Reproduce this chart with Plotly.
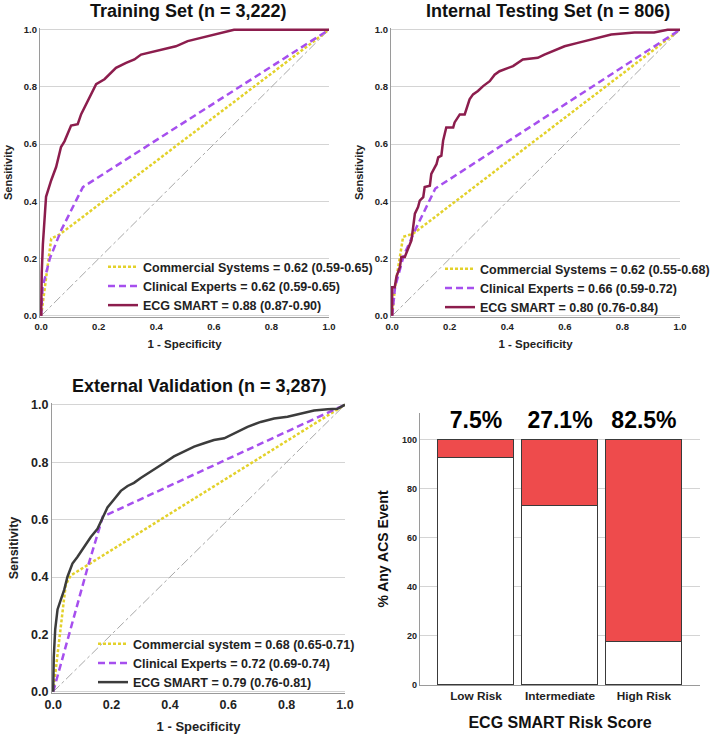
import plotly.graph_objects as go

FONT = "Liberation Sans, Arial, sans-serif"

# ---------------- data ----------------
# Training set
tr_comm_fpr = [0, 0.01, 0.035, 0.065, 1.0]
tr_comm_tpr = [0, 0.08, 0.27, 0.285, 1.0]
tr_clin_fpr = [0, 0.005, 0.03, 0.07, 0.145, 1.0]
tr_clin_tpr = [0, 0.10, 0.20, 0.30, 0.45, 1.0]
tr_ecg_fpr = [0, 0.002, 0.006, 0.01, 0.017, 0.035, 0.052, 0.069, 0.081, 0.104, 0.127, 0.139,
              0.168, 0.179, 0.191, 0.22, 0.243, 0.26, 0.295, 0.324, 0.347, 0.393, 0.44, 0.468,
              0.509, 0.555, 0.6, 0.647, 0.67, 1.0]
tr_ecg_tpr = [0, 0.15, 0.25, 0.32, 0.416, 0.474, 0.52, 0.59, 0.61, 0.665, 0.67, 0.705,
              0.763, 0.786, 0.81, 0.827, 0.85, 0.867, 0.884, 0.896, 0.913, 0.925, 0.936, 0.942,
              0.96, 0.971, 0.983, 0.994, 1.0, 1.0]

# Internal testing set
it_comm_fpr = [0, 0.01, 0.038, 0.073, 1.0]
it_comm_tpr = [0, 0.10, 0.276, 0.287, 1.0]
it_clin_fpr = [0, 0.01, 0.04, 0.08, 0.15, 1.0]
it_clin_tpr = [0, 0.10, 0.21, 0.30, 0.445, 1.0]
it_ecg_fpr = [0, 0, 0.009, 0.015, 0.027, 0.032, 0.044, 0.055, 0.067, 0.073, 0.079, 0.09, 0.096,
              0.108, 0.113, 0.131, 0.136, 0.148, 0.154, 0.16, 0.171, 0.177, 0.183, 0.188, 0.212,
              0.217, 0.235, 0.252, 0.269, 0.281, 0.298, 0.316, 0.339, 0.356, 0.373, 0.42, 0.454,
              0.506, 0.529, 0.558, 0.599, 0.645, 0.691, 0.761, 0.842, 0.91, 0.957, 1.0]
it_ecg_tpr = [0, 0.10, 0.10, 0.137, 0.171, 0.206, 0.206, 0.235, 0.264, 0.31, 0.357, 0.38, 0.403,
              0.415, 0.45, 0.455, 0.496, 0.519, 0.53, 0.554, 0.56, 0.612, 0.635, 0.658, 0.658,
              0.676, 0.704, 0.704, 0.757, 0.774, 0.786, 0.803, 0.82, 0.843, 0.855, 0.873, 0.896,
              0.902, 0.913, 0.925, 0.942, 0.954, 0.965, 0.983, 0.99, 0.99, 1.0, 1.0]

# External validation
ev_comm_fpr = [0, 0.02, 0.043, 0.06, 1.0]
ev_comm_tpr = [0, 0.17, 0.373, 0.405, 1.0]
ev_clin_fpr = [0, 0.12, 0.17, 1.0]
ev_clin_tpr = [0, 0.44, 0.61, 1.0]
ev_ecg_fpr = [0, 0.002, 0.007, 0.015, 0.026, 0.038, 0.049, 0.066, 0.083, 0.106, 0.129, 0.152,
              0.169, 0.186, 0.209, 0.232, 0.255, 0.277, 0.3, 0.329, 0.357, 0.38, 0.414, 0.449,
              0.483, 0.517, 0.551, 0.586, 0.62, 0.666, 0.711, 0.757, 0.803, 0.848, 0.894, 0.94,
              0.974, 1.0]
ev_ecg_tpr = [0, 0.12, 0.218, 0.287, 0.32, 0.356, 0.401, 0.447, 0.47, 0.505, 0.539, 0.568,
              0.608, 0.642, 0.671, 0.70, 0.717, 0.728, 0.745, 0.763, 0.78, 0.797, 0.82, 0.837,
              0.854, 0.866, 0.877, 0.883, 0.90, 0.923, 0.94, 0.952, 0.958, 0.969, 0.98, 0.984,
              0.986, 1.0]

# Legend labels
tr_labels = ["Commercial Systems = 0.62 (0.59-0.65)", "Clinical Experts = 0.62 (0.59-0.65)",
             "ECG SMART = 0.88 (0.87-0.90)"]
it_labels = ["Commercial Systems = 0.62 (0.55-0.68)", "Clinical Experts = 0.66 (0.59-0.72)",
             "ECG SMART = 0.80 (0.76-0.84)"]
ev_labels = ["Commercial system = 0.68 (0.65-0.71)", "Clinical Experts = 0.72 (0.69-0.74)",
             "ECG SMART = 0.79 (0.76-0.81)"]

# Risk score bars
risk_cats = ["Low Risk", "Intermediate", "High Risk"]
acs_pct = [7.5, 27.1, 82.5]
no_acs_pct = [100 - v for v in acs_pct]

# ---------------- styles ----------------
C_COMM = "#E3D12B"
C_CLIN = "#A64FEE"
C_ECG = "#8C1D4D"
C_ECG_EXT = "#3C3C3C"
C_DIAG = "#A8A8A8"
C_RED = "#EE4B4C"

fig = go.Figure()


def add_roc(xa, ya, leg, comm, clin, ecg, labels, ecg_color):
    fig.add_trace(go.Scatter(x=[0, 1], y=[0, 1], mode="lines", xaxis=xa, yaxis=ya,
                             line=dict(color=C_DIAG, width=1, dash="dashdot"),
                             showlegend=False, hoverinfo="skip"))
    fig.add_trace(go.Scatter(x=comm[0], y=comm[1], mode="lines", xaxis=xa, yaxis=ya,
                             name=labels[0], legend=leg,
                             line=dict(color=C_COMM, width=2.5, dash="3px,2px")))
    fig.add_trace(go.Scatter(x=clin[0], y=clin[1], mode="lines", xaxis=xa, yaxis=ya,
                             name=labels[1], legend=leg,
                             line=dict(color=C_CLIN, width=2.5, dash="7px,4px")))
    fig.add_trace(go.Scatter(x=ecg[0], y=ecg[1], mode="lines", xaxis=xa, yaxis=ya,
                             name=labels[2], legend=leg,
                             line=dict(color=ecg_color, width=2.5)))


add_roc("x", "y", "legend", (tr_comm_fpr, tr_comm_tpr), (tr_clin_fpr, tr_clin_tpr),
        (tr_ecg_fpr, tr_ecg_tpr), tr_labels, C_ECG)
add_roc("x2", "y2", "legend2", (it_comm_fpr, it_comm_tpr), (it_clin_fpr, it_clin_tpr),
        (it_ecg_fpr, it_ecg_tpr), it_labels, C_ECG)
add_roc("x3", "y3", "legend3", (ev_comm_fpr, ev_comm_tpr), (ev_clin_fpr, ev_clin_tpr),
        (ev_ecg_fpr, ev_ecg_tpr), ev_labels, C_ECG_EXT)

# Bars
fig.add_trace(go.Bar(x=risk_cats, y=no_acs_pct, xaxis="x4", yaxis="y4", showlegend=False,
                     marker=dict(color="white", line=dict(color="#3a3a3a", width=1)),
                     width=0.905, hoverinfo="skip"))
fig.add_trace(go.Bar(x=risk_cats, y=acs_pct, xaxis="x4", yaxis="y4", showlegend=False,
                     marker=dict(color=C_RED, line=dict(color="#3a3a3a", width=1)),
                     width=0.905, hoverinfo="skip"))
fig.add_trace(go.Scatter(x=risk_cats, y=[107.3] * 3, xaxis="x4", yaxis="y4", mode="text",
                         text=[f"{v}%" for v in acs_pct], showlegend=False,
                         textfont=dict(family=FONT, size=23, color="black", weight="bold"),
                         cliponaxis=False, hoverinfo="skip"))

W, H = 715, 740


def px_x(p):
    return p / W


def px_y(p):
    return 1 - p / H


def roc_x(dom, fs, title_fs, standoff):
    return dict(domain=dom, range=[-0.004, 1.0], tickvals=[0, 0.2, 0.4, 0.6, 0.8, 1.0],
                ticktext=["0.0", "0.2", "0.4", "0.6", "0.8", "1.0"], automargin=False,
                showgrid=False, zeroline=False, showline=True, linecolor="#9a9a9a", linewidth=1.2,
                ticks="", tickfont=dict(family=FONT, size=fs, color="#222", weight="bold"),
                title=dict(text="1 - Specificity", standoff=standoff,
                           font=dict(family=FONT, size=title_fs, color="#222", weight="bold")),
                fixedrange=True)


def roc_y(dom, fs, title_fs, standoff, anchor):
    return dict(domain=dom, range=[-0.004, 1.006], tickvals=[0, 0.2, 0.4, 0.6, 0.8, 1.0],
                ticktext=["0.0", "0.2", "0.4", "0.6", "0.8", "1.0"], automargin=False,
                showgrid=True, gridcolor="#d4d4d4", gridwidth=1, zeroline=False,
                showline=True, linecolor="#9a9a9a", linewidth=1.2, ticks="", anchor=anchor,
                tickfont=dict(family=FONT, size=fs, color="#222", weight="bold"),
                title=dict(text="Sensitivity", standoff=standoff,
                           font=dict(family=FONT, size=title_fs, color="#222", weight="bold")),
                fixedrange=True)


legend_common = dict(bgcolor="rgba(0,0,0,0)", borderwidth=0, itemwidth=30,
                     font=dict(family=FONT, size=12.5, color="#222", weight="bold"),
                     yanchor="top", tracegroupgap=0, traceorder="normal")

fig.update_layout(
    width=W, height=H, margin=dict(l=0, r=0, t=0, b=0, autoexpand=False),
    paper_bgcolor="white", plot_bgcolor="white", barmode="stack", bargap=0,
    font=dict(family=FONT, color="#222"),
    xaxis=dict(**roc_x([px_x(40), px_x(329)], 9.5, 11.5, 9), anchor="y"),
    yaxis=roc_y([px_y(317), px_y(28)], 9.5, 11, 8, "x"),
    xaxis2=dict(**roc_x([px_x(391), px_x(680)], 9.5, 11.5, 9), anchor="y2"),
    yaxis2=roc_y([px_y(317), px_y(28)], 9.5, 11, 8, "x2"),
    xaxis3=dict(**roc_x([px_x(52), px_x(345)], 12.5, 13, 10), anchor="y3"),
    yaxis3=roc_y([px_y(693), px_y(403)], 12.5, 12.5, 9, "x3"),
    xaxis4=dict(domain=[px_x(420), px_x(700)], anchor="y4", range=[-0.667, 2.667],
                showline=True, linecolor="#9a9a9a", linewidth=1.2, ticks="", showgrid=False,
                automargin=False,
                tickfont=dict(family=FONT, size=11.8, color="#222", weight="bold"),
                title=dict(text="ECG SMART Risk Score", standoff=14,
                           font=dict(family=FONT, size=16, color="#111", weight="bold")),
                fixedrange=True),
    yaxis4=dict(domain=[px_y(685), px_y(413)], anchor="x4", range=[0, 111],
                tickvals=[0, 20, 40, 60, 80, 100], showgrid=True, gridcolor="#d4d4d4",
                zeroline=False, showline=True, linecolor="#9a9a9a", linewidth=1.2, ticks="",
                automargin=False,
                tickfont=dict(family=FONT, size=9, color="#222", weight="bold"),
                title=dict(text="% Any ACS Event", standoff=10,
                           font=dict(family=FONT, size=14, color="#111", weight="bold")),
                fixedrange=True),
    legend=dict(**legend_common, x=px_x(103), y=px_y(252), xanchor="left"),
    legend2=dict(**legend_common, x=1.0, y=px_y(254), xanchor="right"),
    legend3=dict(**legend_common, x=px_x(93), y=px_y(629), xanchor="left"),
    showlegend=True,
)

titles = [("Training Set (n = 3,222)", 188, 11),
          ("Internal Testing Set (n = 806)", 548, 11),
          ("External Validation (n = 3,287)", 199, 386)]
for txt, cx, cy in titles:
    fig.add_annotation(text=txt, x=px_x(cx), y=px_y(cy), xref="paper", yref="paper",
                       showarrow=False, xanchor="center", yanchor="middle",
                       font=dict(family=FONT, size=18, color="#111", weight="bold"))

fig.write_html("out.html", config={"displayModeBar": False},
               post_script="document.body.style.margin='0';document.body.style.overflow='hidden';")
